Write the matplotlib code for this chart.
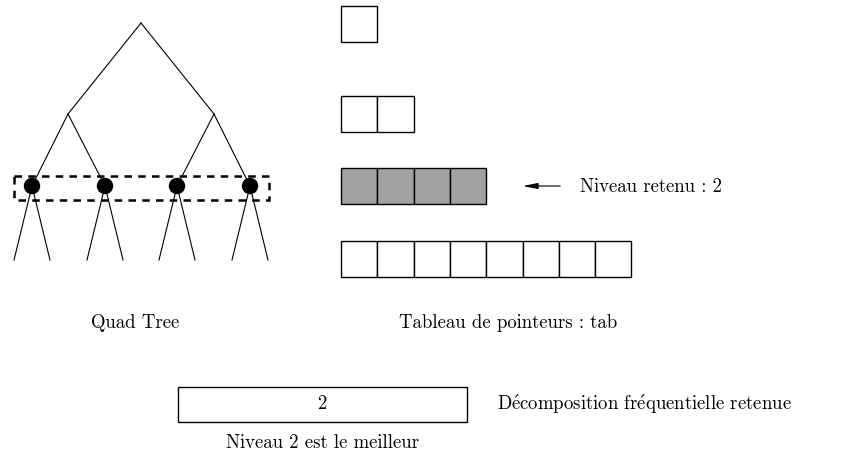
import matplotlib.pyplot as plt
from matplotlib.patches import Rectangle, Circle

# diagram geometry in pixel coordinates (y downwards)
root = (141, 23)
level1 = [(68, 114), (214, 114)]
level2 = [(32, 186), (105, 186), (177, 186), (250, 186)]
leaves_y = 260
leaf_spread = 18

cell = 36.3
array_x = 341
array_rows_y = [6, 96, 168, 241]
array_sizes = [1, 2, 4, 8]
selected_row = 2

e_acute = r"$\acute{\mathrm{e}}$"
labels = {
    "quad": "Quad Tree",
    "tab": "Tableau de pointeurs : tab",
    "niveau": "Niveau retenu : 2",
    "decomp": "D" + e_acute + "composition fr" + e_acute + "quentielle retenue",
    "best": "Niveau 2 est le meilleur",
    "value": "2",
}

plt.rcParams['font.family'] = ['cmr10', 'DejaVu Serif']
plt.rcParams['mathtext.fontset'] = 'cm'
plt.rcParams['axes.formatter.use_mathtext'] = True
fs = 13.5

fig = plt.figure(figsize=(8.44, 4.57), dpi=100)
ax = fig.add_axes([0, 0, 1, 1])
ax.set_xlim(0, 844)
ax.set_ylim(457, 0)
ax.axis("off")

lw = 0.8
# tree edges
for p in level1:
    ax.plot([root[0], p[0]], [root[1], p[1]], color="black", lw=lw)
for i, p in enumerate(level2):
    parent = level1[i // 2]
    ax.plot([parent[0], p[0]], [parent[1], p[1]], color="black", lw=lw)
    for dx in (-leaf_spread, leaf_spread):
        ax.plot([p[0], p[0] + dx], [p[1], leaves_y], color="black", lw=lw)
    ax.add_patch(Circle(p, 7.5, color="black", zorder=3))

# dashed selection box around level 2
ax.add_patch(Rectangle((14, 176), 255, 24, fill=False, ls=(0, (3, 2.5)), lw=1.8, ec="black"))

# pointer arrays
for row_y, n in zip(array_rows_y, array_sizes):
    fc = "#a2a2a2" if n == 2 ** selected_row else "white"
    for k in range(n):
        ax.add_patch(Rectangle((array_x + k * cell, row_y), cell, cell, fc=fc, ec="black", lw=1.0))

# arrow to selected level
ax.annotate("", xy=(520, 186), xytext=(563, 186),
            arrowprops=dict(arrowstyle="-|>,head_length=0.9,head_width=0.18",
                            lw=0.8, color="black", mutation_scale=10))
ax.text(580, 187, labels["niveau"], fontsize=fs, va="center", ha="left")

ax.text(135, 323, labels["quad"], fontsize=fs, va="center", ha="center")
ax.text(399, 323, labels["tab"], fontsize=fs, va="center", ha="left")

# result box
ax.add_patch(Rectangle((178, 387), 289, 35, fill=False, ec="black", lw=1.0))
ax.text(322, 404, labels["value"], fontsize=fs, va="center", ha="center")
ax.text(497, 404, labels["decomp"], fontsize=fs, va="center", ha="left")
ax.text(322, 443, labels["best"], fontsize=fs, va="center", ha="center")

fig.savefig("out.png", dpi=100)
